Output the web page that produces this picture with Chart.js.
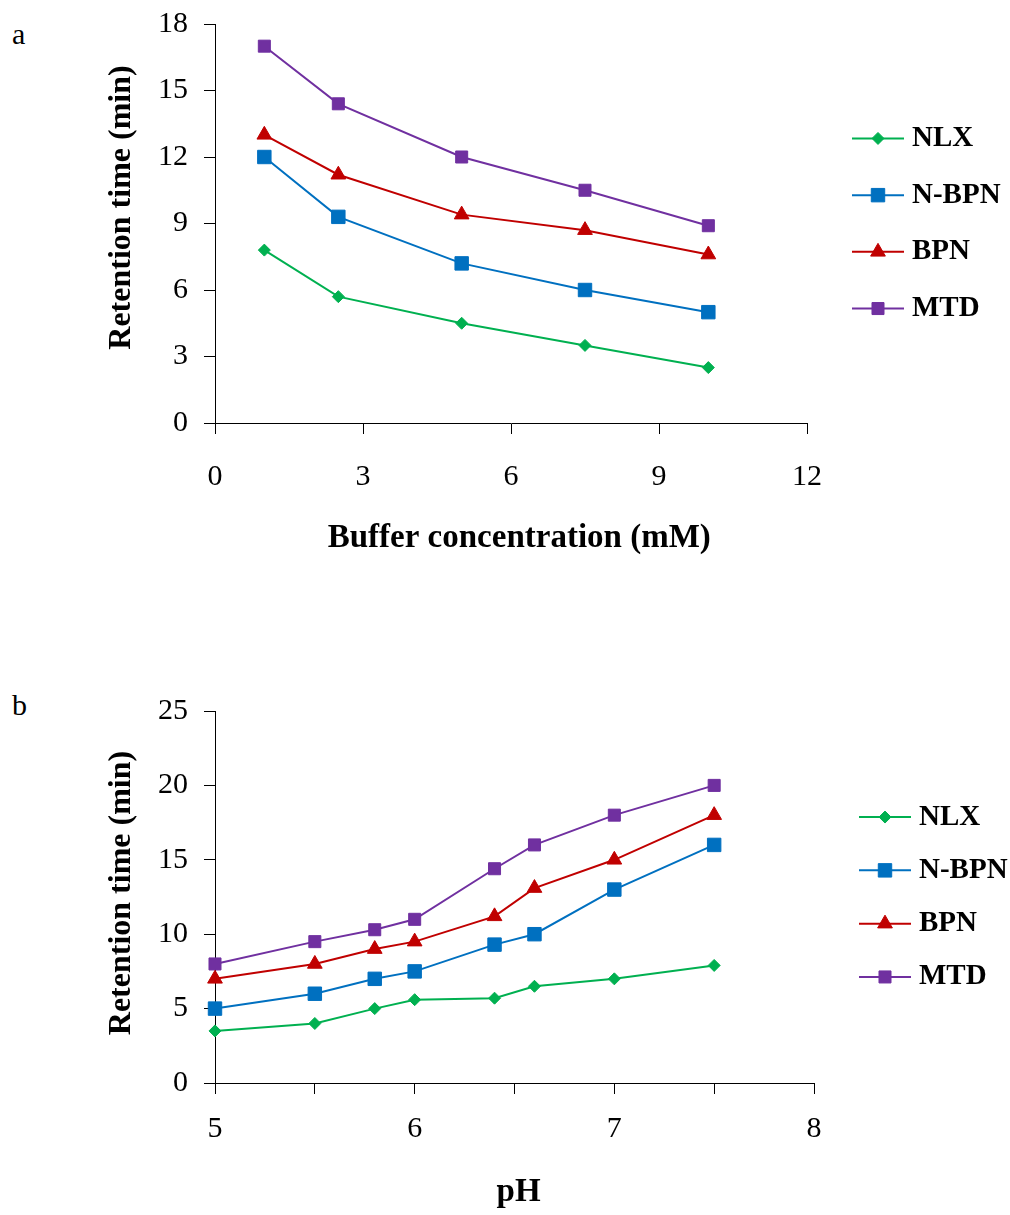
<!DOCTYPE html>
<html>
<head>
<meta charset="utf-8">
<script src="https://cdn.jsdelivr.net/npm/chart.js@4.4.1/dist/chart.umd.min.js"></script>
<style>
  html, body { margin: 0; padding: 0; background: #fff; }
  body { width: 1010px; height: 1215px; position: relative; overflow: hidden; }
  .panel { position: absolute; left: 0; width: 1010px; }
  .tag { position: absolute; left: 12px; font: 30px 'Liberation Serif', 'Times New Roman', serif; line-height: 30px; color: #000; }
</style>
</head>
<body>
<div class="tag" style="top:19px">a</div>
<div class="tag" style="top:690px">b</div>
<div class="panel" style="top:0;height:600px"><canvas id="chartA" width="1010" height="600"></canvas></div>
<div class="panel" style="top:600px;height:615px"><canvas id="chartB" width="1010" height="615"></canvas></div>
<script>
// ---------- data ----------
const seriesNames = ['NLX', 'N-BPN', 'BPN', 'MTD'];

// Panel a: buffer concentration (mM)
const bufferConc = [1, 2.5, 5, 7.5, 10];
const nlxA  = [7.8, 5.7, 4.5, 3.5, 2.5];
const nbpnA = [12.0, 9.3, 7.2, 6.0, 5.0];
const bpnA  = [13.0, 11.2, 9.4, 8.7, 7.6];
const mtdA  = [17.0, 14.4, 12.0, 10.5, 8.9];
const xTicksA = [0, 3, 6, 9, 12];
const yTicksA = [0, 3, 6, 9, 12, 15, 18];

// Panel b: pH
const pHValues = [5, 5.5, 5.8, 6, 6.4, 6.6, 7, 7.5];
const nlxB  = [3.5, 4.0, 5.0, 5.6, 5.7, 6.5, 7.0, 7.9];
const nbpnB = [5.0, 6.0, 7.0, 7.5, 9.3, 10.0, 13.0, 16.0];
const bpnB  = [7.0, 8.0, 9.0, 9.5, 11.2, 13.1, 15.0, 18.0];
const mtdB  = [8.0, 9.5, 10.3, 11.0, 14.4, 16.0, 18.0, 20.0];
const xTicksB = [5, 6, 7, 8];
const yTicksB = [0, 5, 10, 15, 20, 25];

// ---------- styles ----------
const SERIF = "'Liberation Serif', 'Times New Roman', serif";
const styles = [
  { color: '#00B050', pointStyle: 'rectRot',  radius: 6 },
  { color: '#0070C0', pointStyle: 'rect',     radius: 9.5 },
  { color: '#C00000', pointStyle: 'triangle', radius: 8.5 },
  { color: '#7030A0', pointStyle: 'rect',     radius: 8.5 }
];

function makeDatasets(xs, seriesList) {
  return seriesList.map((ys, i) => ({
    label: seriesNames[i],
    data: xs.map((x, j) => ({ x: x, y: ys[j] })),
    borderColor: styles[i].color,
    backgroundColor: styles[i].color,
    pointBackgroundColor: styles[i].color,
    pointBorderColor: styles[i].color,
    pointBorderWidth: 1,
    pointStyle: styles[i].pointStyle,
    pointRadius: styles[i].radius,
    pointHoverRadius: styles[i].radius,
    borderWidth: 2,
    tension: 0,
    fill: false,
    clip: false
  }));
}

// custom legend: line with marker, then bold text
const sideLegend = {
  id: 'sideLegend',
  afterDraw(chart, args, opts) {
    const ctx = chart.ctx;
    const area = chart.chartArea;
    const n = chart.data.datasets.length;
    const cy = (area.top + area.bottom) / 2;
    const x0 = area.right + opts.offset;
    const x1 = x0 + opts.lineLen;
    ctx.save();
    chart.data.datasets.forEach((ds, i) => {
      const y = cy + (i - (n - 1) / 2) * opts.spacing;
      ctx.strokeStyle = ds.borderColor;
      ctx.lineWidth = 2;
      ctx.beginPath();
      ctx.moveTo(x0, y);
      ctx.lineTo(x1, y);
      ctx.stroke();
      ctx.fillStyle = ds.pointBackgroundColor;
      ctx.strokeStyle = ds.pointBorderColor;
      ctx.lineWidth = 1;
      Chart.helpers.drawPoint(ctx, {
        pointStyle: ds.pointStyle, radius: ds.pointRadius, rotation: 0, borderWidth: 1
      }, (x0 + x1) / 2, y);
      ctx.fillStyle = '#000';
      ctx.font = 'bold 29px ' + SERIF;
      ctx.textAlign = 'left';
      ctx.textBaseline = 'middle';
      ctx.fillText(ds.label, x1 + opts.textGap, y);
    });
    ctx.restore();
  }
};

function buildChart(canvasId, cfg) {
  const tickFont = { family: SERIF, size: 30, lineHeight: 1.2 };
  const xTitleFont = { family: SERIF, size: 33, weight: 'bold', lineHeight: 1.2 };
  const yTitleFont = { family: SERIF, size: 32, weight: 'bold', lineHeight: 1.2 };
  const gridCfg = { display: true, drawOnChartArea: false, drawTicks: true, tickLength: 11, color: '#000', lineWidth: 1 };
  return new Chart(document.getElementById(canvasId), {
    type: 'line',
    data: { datasets: cfg.datasets },
    options: {
      responsive: false,
      animation: false,
      events: [],
      layout: { padding: cfg.padding },
      plugins: {
        legend: { display: false },
        tooltip: { enabled: false },
        sideLegend: cfg.legend
      },
      scales: {
        x: {
          type: 'linear',
          min: cfg.xMin, max: cfg.xMax,
          grid: gridCfg,
          border: { display: true, color: '#000', width: 1 },
          ticks: {
            stepSize: cfg.xStep,
            autoSkip: false,
            maxRotation: 0,
            padding: cfg.xTickPad,
            color: '#000',
            font: tickFont,
            callback: (v) => cfg.xLabels.includes(v) ? String(v) : ''
          },
          title: { display: true, text: cfg.xTitle, color: '#000', font: xTitleFont, padding: { top: 0, bottom: cfg.xTitlePad } },
          afterFit(scale) { scale.height = cfg.xHeight; }
        },
        y: {
          type: 'linear',
          min: cfg.yMin, max: cfg.yMax,
          grid: gridCfg,
          border: { display: true, color: '#000', width: 1 },
          ticks: {
            stepSize: cfg.yStep,
            autoSkip: false,
            padding: 16,
            color: '#000',
            font: tickFont,
            callback: (v) => cfg.yLabels.includes(v) ? String(v) : ''
          },
          title: { display: true, text: cfg.yTitle, color: '#000', font: yTitleFont, padding: { top: 3, bottom: 0 } },
          afterFit(scale) {
            scale.width = cfg.yWidth;
            scale.paddingTop = 0;
            scale.paddingBottom = 0;
          }
        }
      }
    },
    plugins: [sideLegend]
  });
}

buildChart('chartA', {
  datasets: makeDatasets(bufferConc, [nlxA, nbpnA, bpnA, mtdA]),
  padding: { left: 100, right: 203, top: 24, bottom: 0 },
  xMin: 0, xMax: 12, xStep: 3, xLabels: xTicksA,
  yMin: 0, yMax: 18, yStep: 3, yLabels: yTicksA,
  xTitle: '  Buffer concentration (mM)',
  yTitle: '    Retention time (min)',
  xHeight: 177, xTitlePad: 42, yWidth: 115, xTickPad: 25,
  legend: { offset: 45, lineLen: 52, textGap: 8, spacing: 56.7 }
});

buildChart('chartB', {
  datasets: makeDatasets(pHValues, [nlxB, nbpnB, bpnB, mtdB]),
  padding: { left: 100, right: 196, top: 111, bottom: 0 },
  xMin: 5, xMax: 8, xStep: 0.5, xLabels: xTicksB,
  yMin: 0, yMax: 25, yStep: 5, yLabels: yTicksB,
  xTitle: ' pH',
  yTitle: ' Retention time (min)',
  xHeight: 132, xTitlePad: 3, yWidth: 115, xTickPad: 17,
  legend: { offset: 45, lineLen: 52, textGap: 8, spacing: 53.3 }
});
</script>
</body>
</html>
